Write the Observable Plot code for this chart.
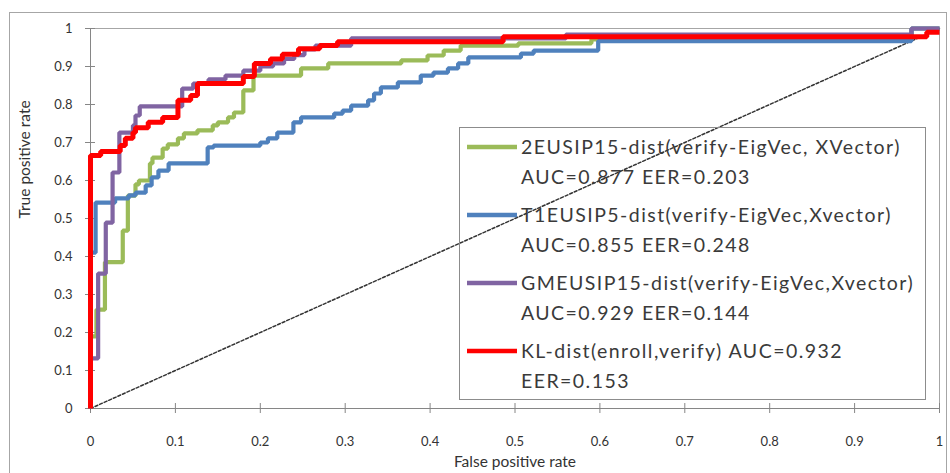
<!DOCTYPE html>
<html>
<head>
<meta charset="utf-8">
<script src="https://cdn.jsdelivr.net/npm/d3@7"></script>
<script src="https://cdn.jsdelivr.net/npm/@observablehq/plot@0.6"></script>
<style>
  body { margin: 0; background: #fff; }
  #wrap { position: relative; width: 950px; height: 473px; overflow: hidden; font-family: Lato, "Open Sans", sans-serif; }
  #outer { position: absolute; left: 9px; top: 12px; width: 936px; height: 480px; border: 1px solid #a6a6a6; pointer-events: none; }
  #legend { position: absolute; left: 459px; top: 127px; width: 467px; height: 273px; border: 1px solid #8c8c8c; box-sizing: border-box; }
  #legend svg { position: absolute; left: 0; top: 0; }
  .lt { position: absolute; left: 61px; font-size: 19.5px; letter-spacing: 1.45px; color: #3a3a3a; white-space: nowrap; line-height: 20px; }
</style>
</head>
<body>
<div id="wrap"></div>
<script>
// ---- data ----
const seriesNames = [
  "2EUSIP15-dist(verify-EigVec, XVector)",
  "T1EUSIP5-dist(verify-EigVec,Xvector)",
  "GMEUSIP15-dist(verify-EigVec,Xvector)",
  "KL-dist(enroll,verify)"
];
const aucValues = ["0.877", "0.855", "0.929", "0.932"];
const eerValues = ["0.203", "0.248", "0.144", "0.153"];
const seriesColors = ["#9bbb59", "#4f81bd", "#8064a2", "#ff0000"];

const greenFpr = [0, 0, 0.007, 0.017, 0.038, 0.044, 0.053, 0.057, 0.070, 0.073, 0.085, 0.091, 0.103, 0.110, 0.126, 0.144, 0.150, 0.162, 0.169, 0.180, 0.192, 0.248, 0.280, 0.366, 0.397, 0.416, 0.436, 0.504, 0.590, 0.635, 0.967, 1];
const greenTpr = [0, 0.19, 0.26, 0.385, 0.468, 0.56, 0.59, 0.60, 0.645, 0.66, 0.684, 0.695, 0.711, 0.724, 0.732, 0.745, 0.753, 0.766, 0.779, 0.837, 0.876, 0.895, 0.908, 0.916, 0.929, 0.942, 0.955, 0.961, 0.971, 0.978, 1, 1];

const blueFpr = [0, 0, 0.006, 0.029, 0.045, 0.053, 0.065, 0.072, 0.080, 0.092, 0.138, 0.145, 0.200, 0.209, 0.220, 0.239, 0.248, 0.287, 0.297, 0.307, 0.327, 0.334, 0.342, 0.362, 0.389, 0.404, 0.421, 0.433, 0.445, 0.507, 0.522, 0.598, 0.967, 1];
const blueTpr = [0, 0.41, 0.542, 0.553, 0.561, 0.568, 0.587, 0.608, 0.626, 0.645, 0.687, 0.692, 0.70, 0.711, 0.726, 0.753, 0.766, 0.776, 0.784, 0.797, 0.811, 0.829, 0.845, 0.858, 0.876, 0.884, 0.895, 0.908, 0.924, 0.934, 0.942, 0.967, 1, 1];

const purpleFpr = [0, 0, 0.009, 0.018, 0.026, 0.034, 0.050, 0.053, 0.058, 0.108, 0.121, 0.139, 0.159, 0.180, 0.200, 0.215, 0.228, 0.240, 0.252, 0.265, 0.307, 0.560, 0.967, 1];
const purpleTpr = [0, 0.132, 0.355, 0.489, 0.621, 0.726, 0.745, 0.771, 0.795, 0.842, 0.855, 0.866, 0.876, 0.889, 0.90, 0.908, 0.92, 0.93, 0.945, 0.955, 0.974, 0.984, 1, 1];

const redFpr = [0, 0, 0.012, 0.035, 0.041, 0.050, 0.053, 0.068, 0.085, 0.103, 0.118, 0.126, 0.180, 0.193, 0.212, 0.226, 0.245, 0.270, 0.291, 0.486, 0.985, 1];
const redTpr = [0, 0.666, 0.676, 0.692, 0.711, 0.726, 0.739, 0.753, 0.766, 0.811, 0.824, 0.855, 0.874, 0.908, 0.92, 0.932, 0.947, 0.955, 0.965, 0.978, 0.99, 0.99];

const diagFpr = [0, 1];
const diagTpr = [0, 1];

const xTicks = [0, 0.1, 0.2, 0.3, 0.4, 0.5, 0.6, 0.7, 0.8, 0.9, 1];
const yTicks = [0, 0.1, 0.2, 0.3, 0.4, 0.5, 0.6, 0.7, 0.8, 0.9, 1];
const xTickLabels = ["0", "0.1", "0.2", "0.3", "0.4", "0.5", "0.6", "0.7", "0.8", "0.9", "1"];
const yTickLabels = ["0", "0.1", "0.2", "0.3", "0.4", "0.5", "0.6", "0.7", "0.8", "0.9", "1"];
const xTitle = "False positive rate";
const yTitle = "True positive rate";

// ---- build tables ----
const fprs = [greenFpr, blueFpr, purpleFpr, redFpr];
const tprs = [greenTpr, blueTpr, purpleTpr, redTpr];
const widths = [4.2, 4.2, 4.2, 5];
const tables = fprs.map((f, i) => f.map((x, j) => ({fpr: x, tpr: tprs[i][j], series: seriesNames[i]})));
const diag = diagFpr.map((x, j) => ({fpr: x, tpr: diagTpr[j]}));

const chart = Plot.plot({
  width: 950,
  height: 473,
  marginLeft: 90,
  marginRight: 11,
  marginTop: 28,
  marginBottom: 65,
  x: {domain: [0, 1]},
  y: {domain: [0, 1]},
  style: {fontFamily: "Lato, 'Open Sans', sans-serif", fontSize: "13px", color: "#333", background: "transparent"},
  marks: [
    Plot.frame({stroke: "#a6a6a6"}),
    Plot.axisX({ticks: xTicks, tickFormat: (d) => xTickLabels[xTicks.indexOf(d)], tickSize: 10, dy: -5, tickPadding: 23, label: null, stroke: "#868686"}),
    Plot.axisY({ticks: yTicks, tickFormat: (d) => yTickLabels[yTicks.indexOf(d)], tickSize: 10, dx: 5, tickPadding: 13, label: null, stroke: "#868686"}),
    Plot.ruleX([0], {stroke: "#868686"}),
    Plot.ruleY([0], {stroke: "#868686"}),
    Plot.line(diag, {x: "fpr", y: "tpr", stroke: "#333", strokeWidth: 1.5, strokeDasharray: "3,2"}),
    ...tables.map((t, i) => Plot.line(t, {x: "fpr", y: "tpr", curve: "step-after", stroke: seriesColors[i], strokeWidth: widths[i], strokeLinejoin: "miter", strokeLinecap: "butt"})),
    Plot.text([xTitle], {frameAnchor: "bottom", dy: 54, lineAnchor: "middle", fontSize: 15.5, fill: "#333"}),
    Plot.text([yTitle], {frameAnchor: "left", dx: -65, rotate: -90, lineAnchor: "middle", fontSize: 15.5, fill: "#333"})
  ]
});

const wrap = document.getElementById("wrap");
wrap.appendChild(chart);
const outer = document.createElement("div");
outer.id = "outer";
wrap.appendChild(outer);

// ---- legend (inside plot area, transparent) ----
const legendLine1 = [
  seriesNames[0],
  seriesNames[1],
  seriesNames[2],
  `${seriesNames[3]} AUC=${aucValues[3]}`
];
const legendLine2 = [
  `AUC=${aucValues[0]} EER=${eerValues[0]}`,
  `AUC=${aucValues[1]} EER=${eerValues[1]}`,
  `AUC=${aucValues[2]} EER=${eerValues[2]}`,
  `EER=${eerValues[3]}`
];
const legend = document.createElement("div");
legend.id = "legend";
const ns = "http://www.w3.org/2000/svg";
const sw = document.createElementNS(ns, "svg");
sw.setAttribute("width", 465);
sw.setAttribute("height", 271);
legend.appendChild(sw);
seriesNames.forEach((s, i) => {
  const top = 20 + i * 68;
  const ln = document.createElementNS(ns, "line");
  ln.setAttribute("x1", 7); ln.setAttribute("x2", 57);
  ln.setAttribute("y1", top - 1); ln.setAttribute("y2", top - 1);
  ln.setAttribute("stroke", seriesColors[i]);
  ln.setAttribute("stroke-width", 4.5);
  sw.appendChild(ln);
  [legendLine1[i], legendLine2[i]].forEach((t, k) => {
    const d = document.createElement("div");
    d.className = "lt";
    d.style.top = (top - 11 + k * 30) + "px";
    d.textContent = t;
    legend.appendChild(d);
  });
});
wrap.appendChild(legend);
</script>
</body>
</html>
